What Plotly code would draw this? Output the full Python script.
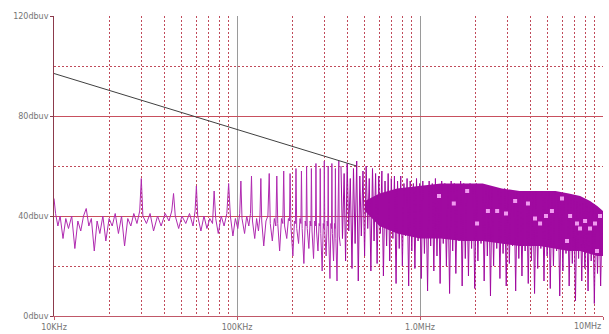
import plotly.graph_objects as go

# ---------------- data ----------------
# sparse low-frequency part of the spectrum: frequency in kHz, level in dBuV
low_khz = [10.0, 10.2, 10.5, 10.8, 11.2, 11.6, 12.0, 12.5, 13.0, 13.5, 14.0, 14.5, 15.0, 15.5,
           16.0, 16.6, 17.2, 17.8, 18.5, 19.2, 20.0, 20.8, 21.6, 22.5, 23.4, 24.3, 25.3, 26.3,
           27.3, 28.4, 29.4, 30.0, 30.6, 32.0, 33.5, 35.0, 36.8, 38.5, 40.5, 42.5, 44.0, 45.0,
           46.0, 48.0, 50.0, 52.5, 55.0, 57.5, 59.0, 60.0, 61.0, 63.5, 66.0, 68.5, 71.0, 73.5,
           75.0, 76.5, 79.0, 82.0, 85.0, 88.0, 90.0, 92.0, 95.0, 98.0, 101.0, 103.5, 105.0,
           106.5, 110.0, 113.0, 116.0, 118.5, 120.0, 121.5, 125.0, 128.0, 131.0, 133.5, 135.0,
           136.5, 140.0, 144.0, 147.5, 150.0, 152.0, 156.0, 160.0, 163.0, 165.0, 167.0, 171.0,
           175.0, 178.0, 180.0, 182.0, 187.0, 191.0, 193.5, 195.0, 197.0, 202.0, 206.0, 208.5,
           210.0, 212.0, 217.0, 221.0, 223.5, 225.0, 227.0, 232.0, 236.0, 238.5, 240.0, 242.0,
           247.0, 251.0, 253.5, 255.0, 257.0, 262.0, 266.0, 268.5, 270.0, 272.0, 277.0, 281.0,
           283.5, 285.0, 287.0, 292.0, 296.0, 298.5, 300.0, 302.0, 307.0, 311.0, 313.5, 315.0,
           317.0, 322.0, 326.0, 328.5, 330.0, 332.0, 337.0, 341.0, 343.5, 345.0, 347.0, 352.0,
           356.0, 358.5, 360.0, 362.0, 367.0]
low_db = [47, 41, 36, 40, 31, 39, 35, 40, 27, 38, 34, 40, 43, 36,
          39, 26, 38, 33, 40, 30, 39, 36, 41, 33, 40, 28, 39, 36,
          41, 37, 42, 55, 40, 37, 41, 34, 40, 36, 41, 38, 42, 49,
          40, 35, 40, 37, 41, 36, 42, 52, 40, 34, 40, 35, 39, 37,
          50, 39, 33, 40, 36, 41, 53, 40, 32, 39, 35, 41, 54,
          39, 33, 40, 36, 41, 56, 38, 31, 39, 34, 40, 55,
          38, 28, 38, 40, 57, 37, 30, 39, 36, 56, 37, 26,
          39, 37, 58, 36, 31, 39, 38, 57, 36, 24, 38, 37,
          59, 35, 29, 39, 37, 58, 35, 21, 38, 36, 60, 35,
          27, 38, 36, 59, 34, 23, 38, 36, 61, 34, 26, 37,
          36, 59, 33, 18, 37, 35, 62, 33, 24, 38, 36, 60,
          32, 15, 37, 35, 61, 33, 22, 37, 35, 59, 31, 14,
          37, 35, 62, 32, 28]

# dense high-frequency part: frequency in MHz, level in dBuV (alternating peaks and dips)
high_mhz = [0.370, 0.377, 0.385, 0.392, 0.400, 0.408, 0.416, 0.425, 0.433, 0.442,
            0.451, 0.460, 0.469, 0.478, 0.488, 0.498, 0.508, 0.518, 0.528, 0.539,
            0.550, 0.561, 0.572, 0.583, 0.595, 0.607, 0.619, 0.631, 0.644, 0.657,
            0.670, 0.683, 0.697, 0.711, 0.725, 0.740, 0.754, 0.770, 0.785, 0.801,
            0.817, 0.833, 0.850, 0.867, 0.884, 0.902, 0.920, 0.938, 0.957, 0.976,
            0.996, 1.016, 1.036, 1.057, 1.078, 1.100, 1.122, 1.144, 1.167, 1.190,
            1.214, 1.238, 1.263, 1.288, 1.314, 1.340, 1.367, 1.394, 1.422, 1.451,
            1.480, 1.509, 1.540, 1.570, 1.602, 1.634, 1.667, 1.700, 1.734, 1.768,
            1.804, 1.840, 1.877, 1.914, 1.952, 1.991, 2.031, 2.072, 2.113, 2.155,
            2.198, 2.242, 2.287, 2.333, 2.380, 2.427, 2.476, 2.525, 2.576, 2.627,
            2.680, 2.733, 2.788, 2.844, 2.901, 2.959, 3.018, 3.078, 3.140, 3.203,
            3.267, 3.332, 3.399, 3.467, 3.536, 3.607, 3.679, 3.753, 3.828, 3.904,
            3.982, 4.062, 4.143, 4.226, 4.311, 4.397, 4.485, 4.574, 4.666, 4.759,
            4.854, 4.951, 5.050, 5.151, 5.254, 5.360, 5.467, 5.576, 5.688, 5.801,
            5.917, 6.036, 6.156, 6.279, 6.405, 6.533, 6.664, 6.797, 6.933, 7.072,
            7.213, 7.357, 7.504, 7.654, 7.808, 7.964, 8.123, 8.285, 8.451, 8.620,
            8.793, 8.968, 9.148, 9.331, 9.517, 9.708, 9.902, 10.0]
high_db = [60, 31, 57, 22, 61, 34, 55, 19, 59, 29,
           62, 14, 56, 32, 58, 24, 60, 35, 55, 18,
           59, 30, 57, 21, 56, 33, 58, 16, 54, 28,
           57, 22, 55, 31, 56, 13, 54, 27, 56, 20,
           53, 32, 55, 12, 54, 26, 53, 19, 55, 30,
           53, 15, 54, 25, 52, 10, 54, 28, 53, 18,
           55, 24, 52, 13, 54, 29, 53, 20, 52, 9,
           54, 26, 53, 17, 52, 30, 54, 12, 53, 23,
           52, 16, 53, 27, 52, 11, 53, 22, 51, 29,
           52, 14, 51, 24, 52, 8, 51, 20, 50, 27,
           51, 15, 50, 25, 51, 12, 50, 21, 49, 28,
           50, 10, 50, 23, 49, 16, 50, 26, 49, 13,
           50, 22, 49, 9, 50, 19, 49, 27, 50, 14,
           49, 24, 50, 11, 49, 20, 49, 26, 48, 8,
           49, 18, 48, 25, 48, 12, 47, 21, 47, 6,
           46, 23, 46, 14, 45, 19, 45, 10, 44, 22,
           44, 5, 43, 17, 42, 12, 42, 30]

# solid band of the dense spectrum (MHz, dBuV)
band_mhz = [0.50, 0.60, 0.75, 1.0, 1.3, 1.7, 2.2, 2.8, 3.5, 4.5, 5.5, 6.5, 7.5, 8.5, 9.3, 10.0]
band_top = [46, 49, 51, 52, 53, 53, 53, 51, 50, 50, 50, 49, 48, 46, 44, 42]
band_bot = [42, 36, 33, 31, 31, 30, 30, 29, 28, 28, 27, 26, 26, 25, 24, 24]

# light marker points inside the dense band (MHz, dBuV)
mark_mhz = [1.27, 1.53, 1.81, 2.05, 2.35, 2.64, 2.95, 3.31, 3.89, 4.25, 4.53, 4.88,
            5.26, 5.97, 6.36, 6.61, 7.21, 7.49, 7.98, 8.49, 9.04, 9.63, 9.27]
mark_db = [48, 45, 50, 37, 42, 42, 41, 46, 45, 39, 37, 40,
           42, 47, 30, 40, 37, 35, 38, 35, 37, 40, 26]

# limit line (kHz, dBuV)
limit_khz = [10, 450]
limit_db = [97, 60]

# axis ticks
x_ticks_hz = [1e4, 1e5, 1e6, 1e7]
x_tick_text = ["10KHz", "100KHz", "1.0MHz", ""]
y_ticks = [0, 40, 80, 120]
y_tick_text = ["0dbuv", "40dbuv", "80dbuv", "120dbuv"]
y_minor = [20, 60, 100]

# ---------------- figure ----------------
MAG = "#a00aa0"
fig = go.Figure()

bx = [f * 1e6 for f in band_mhz]
fig.add_trace(go.Scatter(x=bx, y=band_bot, mode="lines", line=dict(width=0, color=MAG),
                         hoverinfo="skip", showlegend=False))
fig.add_trace(go.Scatter(x=bx, y=band_top, mode="lines", line=dict(width=0, color=MAG),
                         fill="tonexty", fillcolor=MAG, showlegend=False))

fig.add_trace(go.Scatter(x=[f * 1e3 for f in low_khz], y=low_db, mode="lines",
                         line=dict(color="#b02ab0", width=1), showlegend=False))
fig.add_trace(go.Scatter(x=[f * 1e6 for f in high_mhz], y=high_db, mode="lines",
                         line=dict(color=MAG, width=1), showlegend=False))
fig.add_trace(go.Scatter(x=[f * 1e6 for f in mark_mhz], y=mark_db, mode="markers",
                         marker=dict(symbol="square", size=4, color="#f09af0", line=dict(width=0)),
                         showlegend=False))
fig.add_trace(go.Scatter(x=[f * 1e3 for f in limit_khz], y=limit_db, mode="lines",
                         line=dict(color="#404040", width=1), showlegend=False))

minor_x = [k * 10 ** d for d in (4, 5, 6) for k in range(2, 10)]
tickfont = dict(family="DejaVu Sans", size=8, color="#747474")

fig.update_xaxes(type="log", range=[4, 7], tickvals=x_ticks_hz, ticktext=x_tick_text,
                 showgrid=True, gridcolor="#9a9a9a", gridwidth=1, zeroline=False,
                 showline=True, linecolor="#c05868", linewidth=1, automargin=False,
                 ticks="outside", ticklen=3, tickcolor="#c05868", tickfont=tickfont,
                 minor=dict(tickvals=minor_x, showgrid=True, griddash="2px,2px",
                            gridcolor="#c04a5a", gridwidth=1, ticks=""))
fig.update_yaxes(range=[0, 120], tickvals=y_ticks, ticktext=y_tick_text,
                 showgrid=True, gridcolor="#c8505e", gridwidth=1, zeroline=False,
                 showline=True, linecolor="#8c3a4c", linewidth=1, automargin=False,
                 ticks="outside", ticklen=3, tickcolor="#8c3a4c", tickfont=tickfont,
                 minor=dict(tickvals=y_minor, showgrid=True, griddash="2px,2px",
                            gridcolor="#c04a5a", gridwidth=1, ticks=""))

fig.add_annotation(x=7, xref="x", y=0, yref="paper", yanchor="top", xanchor="right",
                   yshift=-4, text="10MHz", showarrow=False, font=tickfont)

fig.update_layout(width=609, height=334, margin=dict(l=54, r=6, t=16, b=18),
                  paper_bgcolor="white", plot_bgcolor="white", showlegend=False,
                  hovermode=False)

fig.write_html("out.html", config={"displayModeBar": False, "staticPlot": True},
               post_script="document.body.style.margin='0px';document.body.style.overflow='hidden';")
